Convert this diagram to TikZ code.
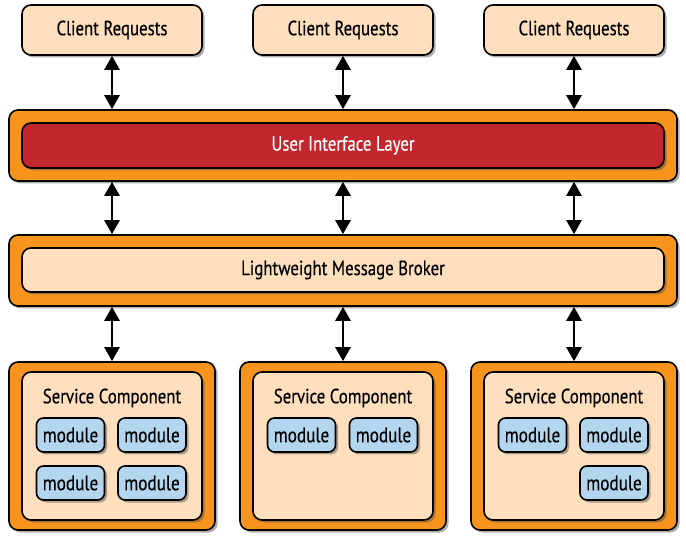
\documentclass[tikz,border=0pt]{standalone}
\usepackage{fontspec}
\setmainfont{PT Sans}[FakeStretch=0.82,FakeBold=0.4]
\usetikzlibrary{arrows.meta,shadows}
\definecolor{peach}{HTML}{FDDFBE}
\definecolor{orng}{HTML}{F7941E}
\definecolor{uired}{HTML}{C1272D}
\definecolor{modblue}{HTML}{B3D5EE}
\tikzset{
  shad/.style={drop shadow={shadow xshift=2.5pt,shadow yshift=-2.5pt,opacity=0.45,fill=black!70}},
  box/.style={draw=black,line width=1.6pt,rounded corners=9pt,shad},
  outerbox/.style={box,fill=orng},
  innerbox/.style={box,fill=peach},
  redbox/.style={box,fill=uired},
  modbox/.style={draw=black,line width=1.6pt,rounded corners=7pt,fill=modblue,shad,
    minimum width=68pt,minimum height=34pt,inner sep=0pt,font=\fontsize{21}{21}\selectfont},
  lbl/.style={font=\fontsize{20.5}{20.5}\selectfont},
  conn/.style={line width=2.5pt,{Triangle[width=15pt,length=14pt]}-{Triangle[width=15pt,length=14pt]}}
}
\begin{document}
\begin{tikzpicture}[x=1pt,y=-1pt]
\useasboundingbox (0,0) rectangle (686,537);
% client requests
\foreach \i/\cx in {1/112,2/343,3/574}{
  \node[innerbox,minimum width=180pt,minimum height=50pt,lbl] (c\i) at (\cx,30) {Client Requests};
}
% UI layer
\node[outerbox,minimum width=668pt,minimum height=71pt] (uio) at (343,145.5) {};
\node[redbox,minimum width=642pt,minimum height=45pt,lbl,text=white] (ui) at (343,145.5) {User Interface Layer};
% broker
\node[outerbox,minimum width=668pt,minimum height=71pt] (bro) at (343,270.5) {};
\node[innerbox,minimum width=642pt,minimum height=44pt,lbl] (br) at (343,270) {Lightweight Message Broker};
% service components
\foreach \i/\cx in {1/112,2/343,3/574}{
  \node[outerbox,minimum width=206pt,minimum height=168pt] (so\i) at (\cx,446) {};
  \node[innerbox,minimum width=180pt,minimum height=148pt] (si\i) at (\cx,446) {};
  \node[lbl] (st\i) at (\cx,398) {Service Component};
}
% modules
\node[modbox] (m11) at (70.5,435) {module};
\node[modbox] (m12) at (152,435) {module};
\node[modbox] (m13) at (70.5,483) {module};
\node[modbox] (m14) at (152,483) {module};
\node[modbox] (m21) at (301.5,435) {module};
\node[modbox] (m22) at (383.5,435) {module};
\node[modbox] (m31) at (532.5,435) {module};
\node[modbox] (m32) at (614,435) {module};
\node[modbox] (m33) at (614,483) {module};
% connectors
\foreach \i in {1,2,3}{
  \draw[conn] (c\i.south) -- (c\i.south |- uio.north);
  \draw[conn] (c\i.south |- uio.south) -- (c\i.south |- bro.north);
  \draw[conn] (c\i.south |- bro.south) -- (so\i.north);
}
\end{tikzpicture}
\end{document}
